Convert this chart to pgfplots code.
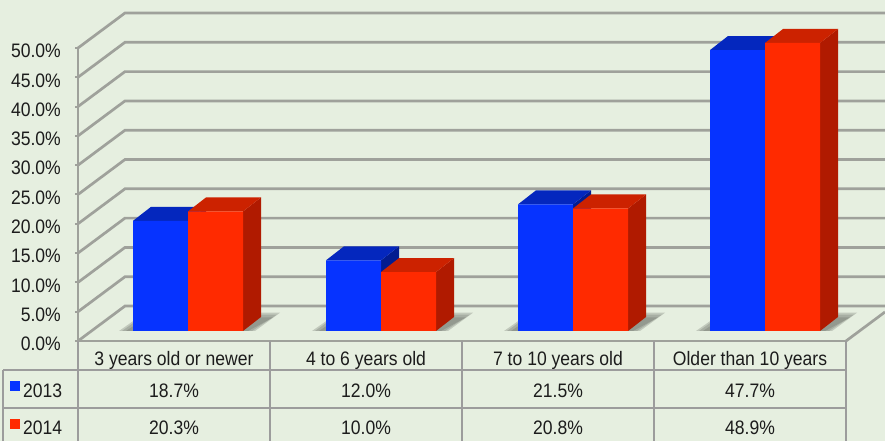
\documentclass[border=0pt]{standalone}
\usepackage{pgfplots}
\pgfplotsset{compat=1.18}
\usepackage{fontspec}
\setmainfont{Liberation Sans}[FakeStretch=0.9]
\definecolor{bgc}{HTML}{E6EFE0}
\definecolor{gridc}{HTML}{9FA19B}
\definecolor{tabc}{HTML}{9C9C9C}
\definecolor{txt}{HTML}{1C1C1C}
\definecolor{bfront}{HTML}{0633FF}
\definecolor{btop}{HTML}{0427BE}
\definecolor{bside}{HTML}{031C90}
\definecolor{rfront}{HTML}{FF2A00}
\definecolor{rtop}{HTML}{CC2200}
\definecolor{rside}{HTML}{B01A00}
\definecolor{shad}{HTML}{6E726A}
\newcommand{\tf}{\fontsize{19.5}{21}\selectfont}
\pgfplotsset{gl/.style={gridc,line width=2.7pt,no markers}}
\pgfplotstableread{
x    blue  red
188  18.7  20.3
381  12.0  10.0
573  21.5  20.8
765  47.7  48.9
}\datatab
\begin{document}
\begin{tikzpicture}[x=1pt,y=1pt]
\useasboundingbox (0,0) rectangle (885,441);
\fill[bgc] (0,0) rectangle (885,441);
% walls and floor
\begin{axis}[
  at={(78pt,100pt)},anchor=south west,
  scale only axis,width=807pt,height=341pt,
  xmin=78,xmax=885,ymin=0,ymax=58.19,
  clip=false,
  axis line style={draw=none},
  xtick={174,366,558,750},
  xticklabels={3 years old or newer,4 to 6 years old,7 to 10 years old,Older than 10 years},
  x tick style={draw=none},
  ytick={0,5,10,15,20,25,30,35,40,45,50},
  y tick style={draw=gridc,line width=2pt},
  major tick length=3pt,
  tick align=outside,
  tick pos=left,
  /pgf/number format/.cd,fixed,fixed zerofill,precision=1,assume math mode=true,
  /pgfplots/.cd,
  yticklabel={\pgfmathprintnumber{\tick}\%},
  tick label style={font=\tf,text=txt,inner sep=0pt},
  yticklabel style={anchor=east,xshift=-14pt,yshift=-3pt},
  xticklabel style={anchor=center,yshift=-16pt},
]
\addplot[gl] coordinates {(78,50)(125,55.97)(885,55.97)};
\addplot[gl] coordinates {(78,45)(125,50.97)(885,50.97)};
\addplot[gl] coordinates {(78,40)(125,45.97)(885,45.97)};
\addplot[gl] coordinates {(78,35)(125,40.97)(885,40.97)};
\addplot[gl] coordinates {(78,30)(125,35.97)(885,35.97)};
\addplot[gl] coordinates {(78,25)(125,30.97)(885,30.97)};
\addplot[gl] coordinates {(78,20)(125,25.97)(885,25.97)};
\addplot[gl] coordinates {(78,15)(125,20.97)(885,20.97)};
\addplot[gl] coordinates {(78,10)(125,15.97)(885,15.97)};
\addplot[gl] coordinates {(78,5)(125,10.97)(885,10.97)};
\addplot[gl] coordinates {(78,0)(125,5.97)(885,5.97)};
\addplot[gl] coordinates {(846,0)(885,4.95)};
\addplot[gl] coordinates {(78,50)(78,0)(846,0)};
\end{axis}
% bars
\begin{axis}[
  at={(78pt,110pt)},anchor=south west,
  scale only axis,width=807pt,height=331pt,
  xmin=78,xmax=885,ymin=0,ymax=56.2,
  hide axis,clip=false,
]
% floor shadows
\addplot[fill=shad,fill opacity=0.3,draw=none] coordinates {(119,0)(145,3.1)(280,3.1)(255,0)} --cycle;
\addplot[fill=shad,fill opacity=0.3,draw=none] coordinates {(122,0)(145,2.8)(277,2.8)(252,0)} --cycle;
\addplot[fill=shad,fill opacity=0.35,draw=none] coordinates {(126,0)(146,2.3)(273,2.3)(248,0)} --cycle;
\addplot[fill=shad,fill opacity=0.3,draw=none] coordinates {(312,0)(338,3.1)(473,3.1)(448,0)} --cycle;
\addplot[fill=shad,fill opacity=0.3,draw=none] coordinates {(315,0)(338,2.8)(470,2.8)(445,0)} --cycle;
\addplot[fill=shad,fill opacity=0.35,draw=none] coordinates {(319,0)(339,2.3)(466,2.3)(441,0)} --cycle;
\addplot[fill=shad,fill opacity=0.3,draw=none] coordinates {(504,0)(530,3.1)(665,3.1)(640,0)} --cycle;
\addplot[fill=shad,fill opacity=0.3,draw=none] coordinates {(507,0)(530,2.8)(662,2.8)(637,0)} --cycle;
\addplot[fill=shad,fill opacity=0.35,draw=none] coordinates {(511,0)(531,2.3)(658,2.3)(633,0)} --cycle;
\addplot[fill=shad,fill opacity=0.3,draw=none] coordinates {(696,0)(722,3.1)(857,3.1)(832,0)} --cycle;
\addplot[fill=shad,fill opacity=0.3,draw=none] coordinates {(699,0)(722,2.8)(854,2.8)(829,0)} --cycle;
\addplot[fill=shad,fill opacity=0.35,draw=none] coordinates {(703,0)(723,2.3)(850,2.3)(825,0)} --cycle;
% 2013: sides, tops, fronts
\addplot[fill=bside,draw=none] coordinates {(188,0)(206,2.38)(206,21.08)(188,18.7)} --cycle;
\addplot[fill=btop,draw=none] coordinates {(133,18.7)(151,21.08)(206,21.08)(188,18.7)} --cycle;
\addplot[fill=bside,draw=none] coordinates {(381,0)(399,2.38)(399,14.38)(381,12.0)} --cycle;
\addplot[fill=btop,draw=none] coordinates {(326,12.0)(344,14.38)(399,14.38)(381,12.0)} --cycle;
\addplot[fill=bside,draw=none] coordinates {(573,0)(591,2.38)(591,23.88)(573,21.5)} --cycle;
\addplot[fill=btop,draw=none] coordinates {(518,21.5)(536,23.88)(591,23.88)(573,21.5)} --cycle;
\addplot[fill=bside,draw=none] coordinates {(765,0)(783,2.38)(783,50.08)(765,47.7)} --cycle;
\addplot[fill=btop,draw=none] coordinates {(710,47.7)(728,50.08)(783,50.08)(765,47.7)} --cycle;
\addplot[ybar,bar width=55pt,bar shift=-27.5pt,fill=bfront,draw=none] table[x=x,y=blue] {\datatab};
% 2014: sides, tops, fronts
\addplot[fill=rside,draw=none] coordinates {(243,0)(261,2.38)(261,22.68)(243,20.3)} --cycle;
\addplot[fill=rtop,draw=none] coordinates {(188,20.3)(206,22.68)(261,22.68)(243,20.3)} --cycle;
\addplot[fill=rside,draw=none] coordinates {(436,0)(454,2.38)(454,12.38)(436,10.0)} --cycle;
\addplot[fill=rtop,draw=none] coordinates {(381,10.0)(399,12.38)(454,12.38)(436,10.0)} --cycle;
\addplot[fill=rside,draw=none] coordinates {(628,0)(646,2.38)(646,23.18)(628,20.8)} --cycle;
\addplot[fill=rtop,draw=none] coordinates {(573,20.8)(591,23.18)(646,23.18)(628,20.8)} --cycle;
\addplot[fill=rside,draw=none] coordinates {(820,0)(838,2.38)(838,51.28)(820,48.9)} --cycle;
\addplot[fill=rtop,draw=none] coordinates {(765,48.9)(783,51.28)(838,51.28)(820,48.9)} --cycle;
\addplot[ybar,bar width=55pt,bar shift=27.5pt,fill=rfront,draw=none] table[x=x,y=red] {\datatab};
\end{axis}
% data table under the chart
\draw[tabc,line width=1.8pt] (3,71) -- (846,71) (3,33) -- (846,33) (3,71) -- (3,0);
\draw[tabc,line width=1.8pt] (78,100) -- (78,0) (270,100) -- (270,0) (462,100) -- (462,0) (654,100) -- (654,0) (846,100) -- (846,0);
\fill[bfront] (10,50) rectangle (20,60);
\fill[rfront] (10,12) rectangle (20,22);
\begin{scope}[every node/.style={font=\tf,text=txt,inner sep=0pt,anchor=center}]
\node[anchor=west] at (23,50) {2013};
\node[anchor=west] at (23,13) {2014};
\node at (174,50) {18.7\%};
\node at (366,50) {12.0\%};
\node at (558,50) {21.5\%};
\node at (750,50) {47.7\%};
\node at (174,13) {20.3\%};
\node at (366,13) {10.0\%};
\node at (558,13) {20.8\%};
\node at (750,13) {48.9\%};
\end{scope}
\end{tikzpicture}
\end{document}
